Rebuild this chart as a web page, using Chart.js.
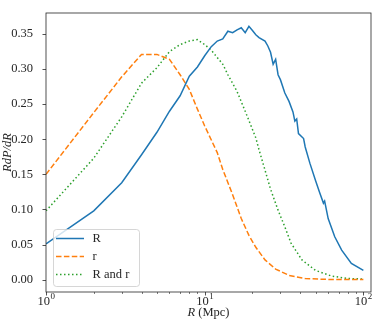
<!DOCTYPE html>
<html>
<head>
<meta charset="utf-8">
<script src="https://cdn.jsdelivr.net/npm/chart.js@4"></script>
<style>
  body { margin: 0; background: #fff; }
  #wrap { width: 382px; height: 328px; }
</style>
</head>
<body>
<div id="wrap"><canvas id="pdfChart" width="382" height="328"></canvas></div>
<script>
// Series: R in Mpc, value R dP/dR
const radiusR = [1, 2, 3, 4, 5, 6, 7, 8, 9, 10, 11, 12, 13, 14, 15, 16, 17, 18, 19, 20, 21, 22, 24, 25, 26, 27, 28, 29, 30, 32, 34, 36, 37, 38, 39, 42, 43, 46, 50, 53, 56, 57, 60, 66, 73, 84, 100];
const valuesR = [0.051, 0.098, 0.138, 0.178, 0.210, 0.240, 0.262, 0.290, 0.303, 0.319, 0.332, 0.340, 0.343, 0.354, 0.352, 0.356, 0.359, 0.352, 0.361, 0.355, 0.349, 0.345, 0.340, 0.333, 0.324, 0.307, 0.314, 0.292, 0.285, 0.266, 0.254, 0.239, 0.226, 0.229, 0.208, 0.201, 0.189, 0.166, 0.141, 0.124, 0.109, 0.112, 0.087, 0.061, 0.042, 0.023, 0.013];

const radiusSmall = [1, 2, 3, 4, 5, 6, 7, 8, 9, 10, 12, 13, 15, 17, 19, 21, 24, 28, 34, 43, 60, 100];
const valuesSmall = [0.150, 0.238, 0.289, 0.321, 0.321, 0.314, 0.292, 0.271, 0.243, 0.219, 0.181, 0.157, 0.121, 0.087, 0.063, 0.046, 0.028, 0.015, 0.006, 0.0015, 0.0002, 0];

const radiusBoth = [1, 2, 3, 4, 5, 6, 7, 8, 9, 10, 11, 13, 14, 16, 18, 21, 22, 24, 26, 29, 32, 35, 41, 50, 63, 80, 100];
const valuesBoth = [0.098, 0.173, 0.232, 0.280, 0.302, 0.325, 0.335, 0.340, 0.342, 0.335, 0.327, 0.307, 0.292, 0.268, 0.240, 0.202, 0.185, 0.156, 0.129, 0.099, 0.075, 0.052, 0.028, 0.013, 0.005, 0.0015, 0.0008];

const seriesLabels = ["R", "r", "R and r"];

// Tick values
const yTicks = [0, 0.05, 0.10, 0.15, 0.20, 0.25, 0.30, 0.35];
const xMajor = [1, 10, 100];
const xMinor = [2, 3, 4, 5, 6, 7, 8, 9, 20, 30, 40, 50, 60, 70, 80, 90];

const serif = "'Liberation Serif', 'DejaVu Serif', serif";
const fontSize = 12.5;

function toPoints(xs, ys) {
    return xs.map((x, i) => ({ x: x, y: ys[i] }));
}

// Frame, ticks, axis labels and legend (matplotlib look)
const decorPlugin = {
    id: "decor",
    afterDraw(chart) {
        let ctx = chart.ctx;
        let area = chart.chartArea;
        let xs = chart.scales.x;
        let ys = chart.scales.y;
        ctx.save();

        // frame
        ctx.strokeStyle = "#262626";
        ctx.lineWidth = 0.8;
        ctx.strokeRect(area.left, area.top, area.right - area.left, area.bottom - area.top);

        // y ticks
        yTicks.forEach(v => {
            let py = Math.round(ys.getPixelForValue(v)) + 0.5;
            ctx.beginPath();
            ctx.moveTo(area.left - 3.5, py);
            ctx.lineTo(area.left, py);
            ctx.stroke();
        });

        // x ticks
        xMajor.forEach(v => {
            let px = Math.round(xs.getPixelForValue(v)) + 0.5;
            ctx.beginPath();
            ctx.moveTo(px, area.bottom);
            ctx.lineTo(px, area.bottom + 3.5);
            ctx.stroke();
        });
        ctx.lineWidth = 0.6;
        xMinor.forEach(v => {
            let px = Math.round(xs.getPixelForValue(v)) + 0.5;
            ctx.beginPath();
            ctx.moveTo(px, area.bottom);
            ctx.lineTo(px, area.bottom + 2);
            ctx.stroke();
        });

        // x tick labels 10^n
        ctx.fillStyle = "#262626";
        ctx.textBaseline = "alphabetic";
        xMajor.forEach(v => {
            let px = xs.getPixelForValue(v);
            let exp = String(Math.round(Math.log10(v)));
            ctx.font = fontSize + "px " + serif;
            let wBase = ctx.measureText("10").width;
            ctx.font = "9px " + serif;
            let wExp = ctx.measureText(exp).width;
            let start = px - (wBase + wExp) / 2;
            ctx.font = fontSize + "px " + serif;
            ctx.textAlign = "left";
            ctx.fillText("10", start, area.bottom + 12.5);
            ctx.font = "9px " + serif;
            ctx.fillText(exp, start + wBase + 0.5, area.bottom + 6.5);
        });

        // x title: italic R + (Mpc)
        ctx.font = "italic " + fontSize + "px " + serif;
        let wR = ctx.measureText("R").width;
        ctx.font = fontSize + "px " + serif;
        let wRest = ctx.measureText(" (Mpc)").width;
        let cx = (area.left + area.right) / 2;
        let tx = cx - (wR + wRest) / 2;
        ctx.textBaseline = "middle";
        ctx.font = "italic " + fontSize + "px " + serif;
        ctx.fillText("R", tx, 313);
        ctx.font = fontSize + "px " + serif;
        ctx.fillText(" (Mpc)", tx + wR, 313);

        // y title
        ctx.save();
        ctx.translate(8, (area.top + area.bottom) / 2);
        ctx.rotate(-Math.PI / 2);
        ctx.textAlign = "center";
        ctx.font = "italic " + fontSize + "px " + serif;
        ctx.fillText("RdP/dR", 0, 0);
        ctx.restore();

        // legend box
        let bx = 53, by = 229, bw = 86, bh = 57;
        ctx.beginPath();
        ctx.roundRect(bx + 0.5, by + 0.5, bw, bh, 3);
        ctx.fillStyle = "rgba(255,255,255,0.8)";
        ctx.fill();
        ctx.strokeStyle = "#cccccc";
        ctx.lineWidth = 0.8;
        ctx.stroke();

        let rows = [238.5, 256.5, 274.5];
        chart.data.datasets.forEach((ds, i) => {
            ctx.strokeStyle = ds.borderColor;
            ctx.lineWidth = ds.borderWidth;
            ctx.setLineDash(ds.borderDash || []);
            ctx.beginPath();
            ctx.moveTo(56, rows[i]);
            ctx.lineTo(84, rows[i]);
            ctx.stroke();
            ctx.setLineDash([]);
            ctx.fillStyle = "#262626";
            ctx.font = fontSize + "px " + serif;
            ctx.textAlign = "left";
            ctx.textBaseline = "middle";
            ctx.fillText(ds.label, 92.5, rows[i]);
        });

        ctx.restore();
    }
};

document.addEventListener("DOMContentLoaded", function () {
    let ctx = document.getElementById("pdfChart").getContext("2d");
    new Chart(ctx, {
        type: "scatter",
        data: {
            datasets: [{
                label: seriesLabels[0],
                data: toPoints(radiusR, valuesR),
                borderColor: "#1f77b4",
                borderWidth: 1.5
            }, {
                label: seriesLabels[1],
                data: toPoints(radiusSmall, valuesSmall),
                borderColor: "#ff7f0e",
                borderWidth: 1.5,
                borderDash: [5.5, 2.4]
            }, {
                label: seriesLabels[2],
                data: toPoints(radiusBoth, valuesBoth),
                borderColor: "#2ca02c",
                borderWidth: 1.5,
                borderDash: [1.5, 2.5]
            }]
        },
        options: {
            responsive: false,
            animation: false,
            devicePixelRatio: 1,
            showLine: true,
            elements: {
                point: { radius: 0, hoverRadius: 0 },
                line: { tension: 0, fill: false }
            },
            layout: { padding: { top: 13, right: 11, left: 0, bottom: 0 } },
            plugins: {
                legend: { display: false },
                tooltip: { enabled: false }
            },
            scales: {
                x: {
                    type: "logarithmic",
                    min: 1,
                    max: 111.7,
                    grid: { display: false },
                    border: { display: false },
                    ticks: { display: false },
                    afterFit: scale => { scale.height = 36; }
                },
                y: {
                    type: "linear",
                    min: -0.0177,
                    max: 0.380,
                    grid: { display: false },
                    border: { display: false },
                    afterBuildTicks: scale => {
                        scale.ticks = yTicks.map(v => ({ value: v }));
                    },
                    ticks: {
                        padding: 5,
                        color: "#262626",
                        font: { family: serif, size: fontSize },
                        callback: v => v.toFixed(2)
                    },
                    afterFit: scale => { scale.width = 46; }
                }
            }
        },
        plugins: [decorPlugin]
    });
});
</script>
</body>
</html>
